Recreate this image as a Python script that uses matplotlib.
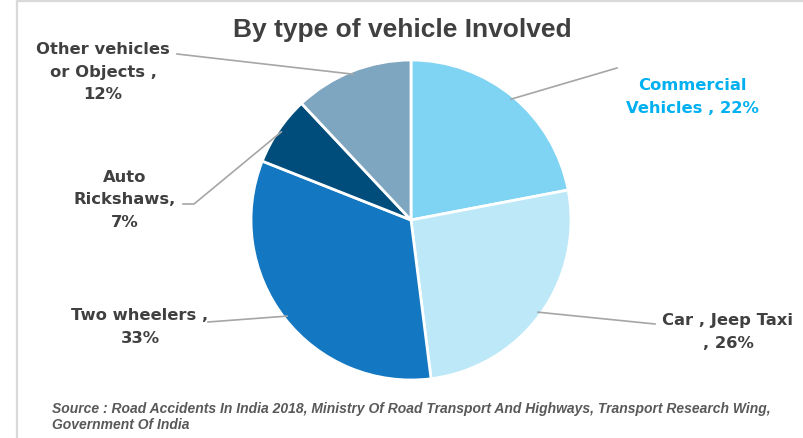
import numpy as np
import matplotlib
matplotlib.use("Agg")
import matplotlib.pyplot as plt
from matplotlib.lines import Line2D

# ---- data ----
categories = ["Commercial\nVehicles , 22%", "Car , Jeep Taxi\n, 26%", "Two wheelers ,\n33%",
              "Auto\nRickshaws,\n7%", "Other vehicles\nor Objects ,\n12%"]
values = [22, 26, 33, 7, 12]
colors = ["#7FD3F3", "#BDE8F8", "#1378C1", "#004C7A", "#7FA6C0"]
title = "By type of vehicle Involved"
source = ("Source : Road Accidents In India 2018, Ministry Of Road Transport And Highways, Transport Research Wing,\n"
          "Government Of India")

W, H = 804, 439
fig = plt.figure(figsize=(W / 100, H / 100), dpi=100)
fig.patch.set_facecolor("white")

# pie axes: center (411,221) px, radius 160 px
cx, cy, R = 411, 221, 160
ax = fig.add_axes([(cx - R) / W, 1 - (cy + R) / H, 2 * R / W, 2 * R / H])
wedges, _ = ax.pie(values, colors=colors, startangle=90, counterclock=False,
                   wedgeprops=dict(edgecolor="white", linewidth=2.0))
ax.set_xlim(-1, 1)
ax.set_ylim(-1, 1)
ax.set_aspect("equal")
ax.axis("off")

def px2fig(px, py):
    return px / W, 1 - py / H

def wedge_pt(w, r=1.0):
    a = np.deg2rad((w.theta1 + w.theta2) / 2)
    return cx + r * R * np.cos(a), cy - r * R * np.sin(a)

# frame lines
fig.add_artist(Line2D([17 / W, 17 / W], [0, 1 - 2 / H], transform=fig.transFigure, color="#D9D9D9", lw=1.6))
fig.add_artist(Line2D([17 / W, 1], [1 - 2 / H, 1 - 2 / H], transform=fig.transFigure, color="#D9D9D9", lw=1.6))

# title
fig.text(*px2fig(402, 30), title, ha="center", va="center", fontsize=19, fontweight="bold",
         color="#404040", family="Liberation Sans")

# labels
label_pos = [(692, 97), (728, 332), (140, 327), (125, 200), (103, 72)]
label_col = ["#00B0F0", "#404040", "#404040", "#404040", "#404040"]
for lab, (x, y), c in zip(categories, label_pos, label_col):
    fig.text(*px2fig(x, y), lab, ha="center", va="center", fontsize=11.8, fontweight="bold",
             color=c, family="DejaVu Sans", linespacing=1.6)

# leader lines (text side anchor points)
leaders = [
    [(617, 69)],
    [(655, 325)],
    [(208, 323)],
    [(183, 205), (194, 205)],
    [(177, 55)],
]
for w, pts in zip(wedges, leaders):
    ex, ey = wedge_pt(w, 0.98)
    allp = pts + [(ex, ey)]
    xs = [p[0] / W for p in allp]
    ys = [1 - p[1] / H for p in allp]
    fig.add_artist(Line2D(xs, ys, transform=fig.transFigure, color="#A6A6A6", lw=1.2))

# source
fig.text(*px2fig(52, 417), source, ha="left", va="center", fontsize=10, fontweight="bold",
         style="italic", color="#595959", family="Liberation Sans", linespacing=1.15)

fig.savefig("out.png", dpi=100, facecolor="white")
